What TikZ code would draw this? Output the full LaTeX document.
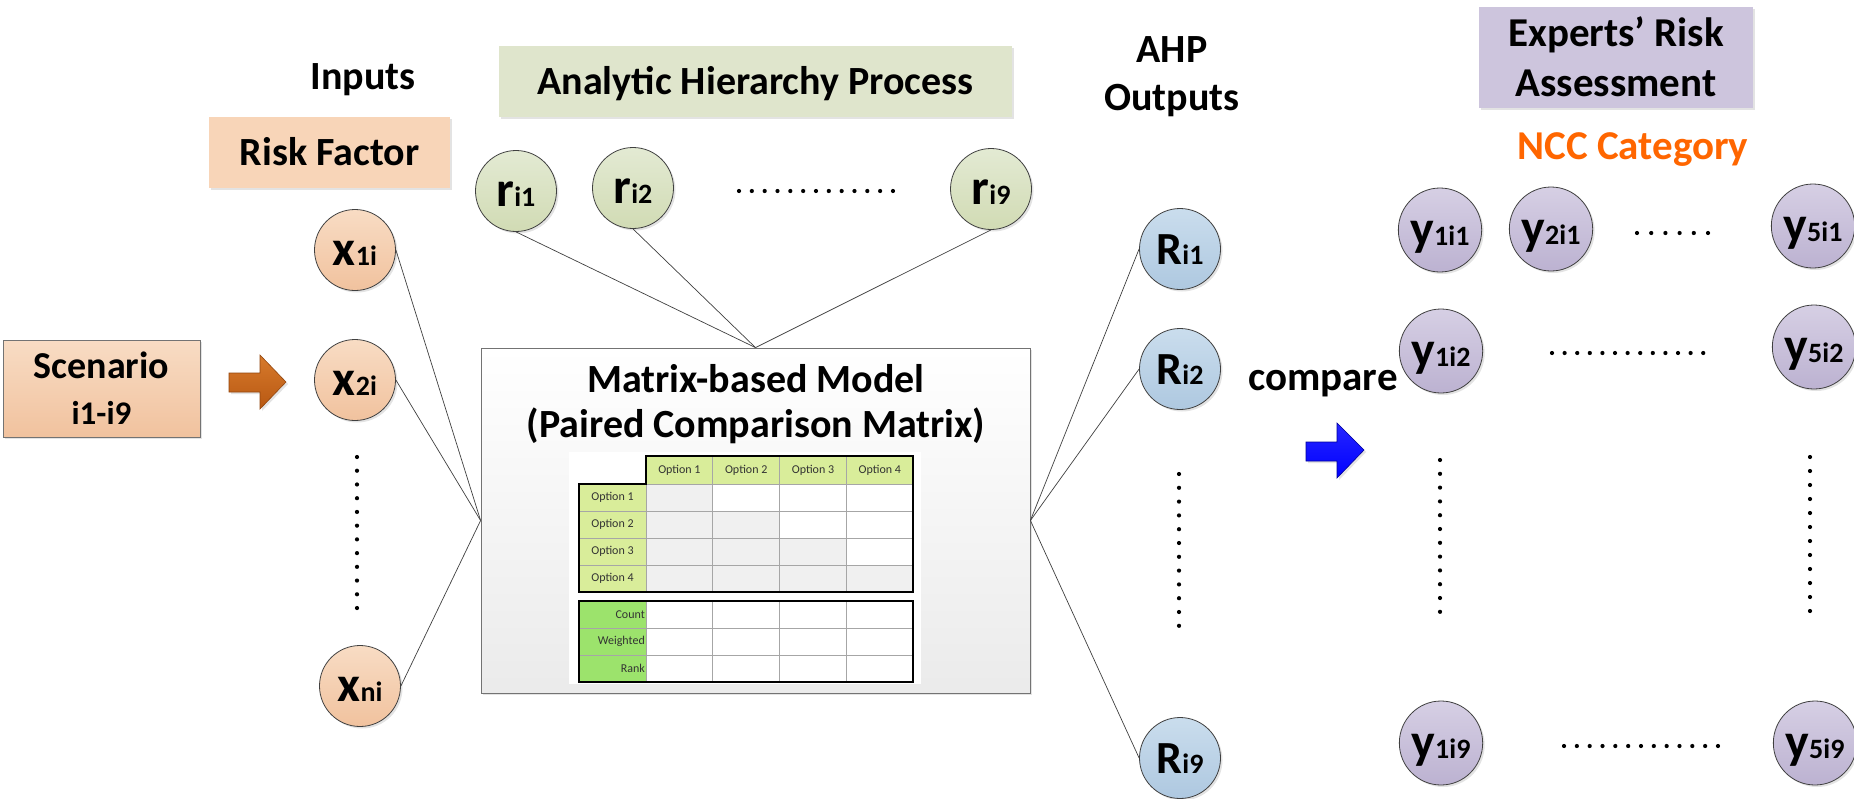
\documentclass[tikz,border=0pt]{standalone}
\usepackage{fontspec}
\setmainfont{Carlito}
\usetikzlibrary{shadows,shapes.geometric}
\definecolor{xTop}{HTML}{F8DCC4}
\definecolor{xBot}{HTML}{F1C29E}
\definecolor{rTop}{HTML}{E3EAD3}
\definecolor{rBot}{HTML}{D1DBB4}
\definecolor{RTop}{HTML}{CADDED}
\definecolor{RBot}{HTML}{AEC8E0}
\definecolor{yTop}{HTML}{D6CFE4}
\definecolor{yBot}{HTML}{BCB2D1}
\definecolor{rfFill}{HTML}{F8D5B8}
\definecolor{ahpFill}{HTML}{DFE5CC}
\definecolor{expFill}{HTML}{CDC5DD}
\definecolor{nccOrange}{HTML}{FF6600}
\definecolor{hdrGreen}{HTML}{D9ED9A}
\definecolor{lowGreen}{HTML}{9CE36C}
\definecolor{cellGray}{HTML}{F0F0F0}
\definecolor{arrTop}{HTML}{D77A2C}
\definecolor{arrBot}{HTML}{B85812}
\newcommand{\circlab}[3][50]{\fontsize{#1}{#1}\selectfont #2\fontsize{28}{28}\selectfont #3}
\begin{document}
\begin{tikzpicture}[x=1pt,y=-1pt,
  shad/.style={drop shadow={opacity=0.22, shadow xshift=2pt, shadow yshift=-2pt}},
  circ/.style={circle, draw=black!75, line width=0.8pt, minimum size=81pt, inner sep=0pt,
    text height=30pt, text depth=0pt, font=\bfseries, shad},
  xnode/.style={circ, top color=xTop, bottom color=xBot},
  rnode/.style={circ, top color=rTop, bottom color=rBot},
  Rnode/.style={circ, top color=RTop, bottom color=RBot},
  ynode/.style={ellipse, draw=black!75, line width=0.8pt, minimum width=80pt, minimum height=84pt, inner sep=0pt,
    text height=30pt, text depth=0pt, font=\bfseries, shad, top color=yTop, bottom color=yBot},
  conn/.style={draw=black!75, line width=0.7pt},
  flatbox/.style={inner sep=0pt, font=\fontsize{40}{48}\selectfont\bfseries, shad},
  plain/.style={inner sep=0pt, font=\fontsize{40}{48}\selectfont\bfseries},
  tcell/.style={inner sep=0pt, font=\fontsize{12}{14}\selectfont, text=black!80},
  dot/.style={fill=black}
]
\useasboundingbox[fill=white] (0,0) rectangle (1854,798);

% headings
\node[plain, anchor=base] (inp) at (363,89) {Inputs};
\node[flatbox, fill=rfFill, minimum width=241pt, minimum height=71pt, text height=26pt, text depth=0pt] (rf) at (329.5,152.5) {Risk Factor};
\node[flatbox, fill=ahpFill, minimum width=513pt, minimum height=71pt, text height=26pt, text depth=0pt] (ahp) at (755.5,81.5) {Analytic Hierarchy Process};
\node[plain, align=center] (ahpout) at (1172,77) {AHP\\Outputs};
\node[flatbox, fill=expFill, minimum width=274pt, minimum height=101pt, align=center, font=\fontsize{41}{50}\selectfont\bfseries] (exp) at (1616,57) {Experts’ Risk\\Assessment};
\node[plain, anchor=base, text=nccOrange, font=\fontsize{41}{48}\selectfont\bfseries] (ncc) at (1633,159) {NCC Category};
\node[plain, anchor=base, font=\fontsize{41}{48}\selectfont\bfseries] (cmp) at (1323,390) {compare};

% scenario
\node[flatbox, draw=black!55, line width=0.8pt, top color=xTop, bottom color=xBot, minimum width=197pt, minimum height=97pt, align=center, font=\fontsize{38}{46}\selectfont\bfseries] (sc) at (101.5,388.5) {Scenario\\{\fontsize{33}{46}\selectfont i1-i9}};

% orange arrow
\shadedraw[top color=arrTop, bottom color=arrBot, draw=arrBot!80!black, line width=0.6pt, shad]
  (229,373) -- (260,373) -- (260,355) -- (286,382) -- (260,409) -- (260,392) -- (229,392) -- cycle;

% blue arrow
\shadedraw[top color=blue!85!white, bottom color=blue, draw=blue!60!black, line width=0.6pt, shad]
  (1306,442) -- (1337,442) -- (1337,423) -- (1364,450) -- (1337,478) -- (1337,461) -- (1306,461) -- cycle;

% matrix box
\node[draw=black!55, line width=0.8pt, top color=white, bottom color=black!8, minimum width=549pt, minimum height=345pt, inner sep=0pt, shad] (mm) at (755.5,520.5) {};
\node[plain, anchor=base] (mt1) at (756,392) {Matrix-based Model};
\node[plain, anchor=base] (mt2) at (756,437) {(Paired Comparison Matrix)};

% table
\fill[white] (569,452) rectangle (921,684);
\fill[hdrGreen] (646,456) rectangle (913.2,484);
\fill[hdrGreen] (579,484) rectangle (646,592);
\fill[lowGreen] (579,601) rectangle (646,682);
\foreach \r/\ya/\yb in {1/484/511,2/511/538,3/538/565,4/565/592}{
  \foreach \c in {1,...,\r}{
    \fill[cellGray] ({646+66.8*(\c-1)},\ya) rectangle ({646+66.8*\c},\yb);
  }
}
\foreach \c in {1,...,4}{
  \draw[black!35, line width=0.7pt] ({646+66.8*\c},456) -- ({646+66.8*\c},592);
  \draw[black!35, line width=0.7pt] ({646+66.8*\c},601) -- ({646+66.8*\c},682);
}
\draw[black!35, line width=0.7pt] (646,456) -- (646,592);
\draw[black!35, line width=0.7pt] (646,601) -- (646,682);
\foreach \yy in {484,511,538,565}{
  \draw[black!35, line width=0.7pt] (579,\yy) -- (913.2,\yy);
}
\foreach \yy in {628,655}{
  \draw[black!35, line width=0.7pt] (579,\yy) -- (913.2,\yy);
}
\draw[black, line width=2.2pt, line join=miter] (646,456) -- (913.2,456) -- (913.2,592) -- (579,592) -- (579,484) -- (646,484) -- cycle;
\draw[black, line width=2.2pt] (579,601) rectangle (913.2,682);
\foreach \c in {1,...,4}{
  \node[tcell] (h\c) at ({646+66.8*(\c-0.5)},470) {Option \c};
}
\foreach \r/\yy in {1/497.5,2/524.5,3/551.5,4/578.5}{
  \node[tcell] (o\r) at (612.5,\yy) {Option \r};
}
\node[tcell, anchor=east] (cnt) at (645,614.5) {Count};
\node[tcell, anchor=east] (wgt) at (645,641.5) {Weighted};
\node[tcell, anchor=east] (rnk) at (645,668.5) {Rank};

% input nodes
\node[xnode] (x1) at (355,250) {\circlab{x}{1i}};
\node[xnode] (x2) at (355,380) {\circlab{x}{2i}};
\node[xnode] (xn) at (360,686) {\circlab{x}{ni}};

% AHP weight nodes
\node[rnode] (r1) at (516,191) {\circlab{r}{i1}};
\node[rnode] (r2) at (633,188) {\circlab{r}{i2}};
\node[rnode] (r9) at (991,189) {\circlab{r}{i9}};

% outputs
\node[Rnode] (R1) at (1180,249) {\circlab[46]{R}{i1}};
\node[Rnode] (R2) at (1180,369) {\circlab[46]{R}{i2}};
\node[Rnode] (R9) at (1180,758) {\circlab[46]{R}{i9}};

% expert nodes
\node[ynode] (y11) at (1440,230) {\circlab{y}{1i1}};
\node[ynode] (y21) at (1551,229) {\circlab{y}{2i1}};
\node[ynode] (y51) at (1813,226) {\circlab{y}{5i1}};
\node[ynode] (y12) at (1441,351) {\circlab{y}{1i2}};
\node[ynode] (y52) at (1814,347) {\circlab{y}{5i2}};
\node[ynode] (y19) at (1441,743) {\circlab{y}{1i9}};
\node[ynode] (y59) at (1815,743) {\circlab{y}{5i9}};

% connectors
\draw[conn] (x1.east) -- (mm.west);
\draw[conn] (x2.east) -- (mm.west);
\draw[conn] (xn.east) -- (mm.west);
\draw[conn] (r1.south) -- (mm.north);
\draw[conn] (r2.south) -- (mm.north);
\draw[conn] (r9.south) -- (mm.north);
\draw[conn] (mm.east) -- (R1.west);
\draw[conn] (mm.east) -- (R2.west);
\draw[conn] (mm.east) -- (R9.west);

% dots
\foreach \i in {0,...,11}{
  \fill[dot] (357,{457+\i*13.73}) circle (2.1);
  \fill[dot] (1179,{474+\i*13.8}) circle (2.1);
  \fill[dot] (1440,{460+\i*13.8}) circle (2.1);
  \fill[dot] (1810,{457+\i*14}) circle (2.1);
}
\foreach \i in {0,...,12}{
  \fill[dot] ({739+\i*12.83},191) circle (2.1);
  \fill[dot] ({1552+\i*12.6},353) circle (2.1);
  \fill[dot] ({1564+\i*12.83},746) circle (2.1);
}
\foreach \i in {0,...,5}{
  \fill[dot] ({1637+\i*14.2},233) circle (2.1);
}
\end{tikzpicture}
\end{document}
